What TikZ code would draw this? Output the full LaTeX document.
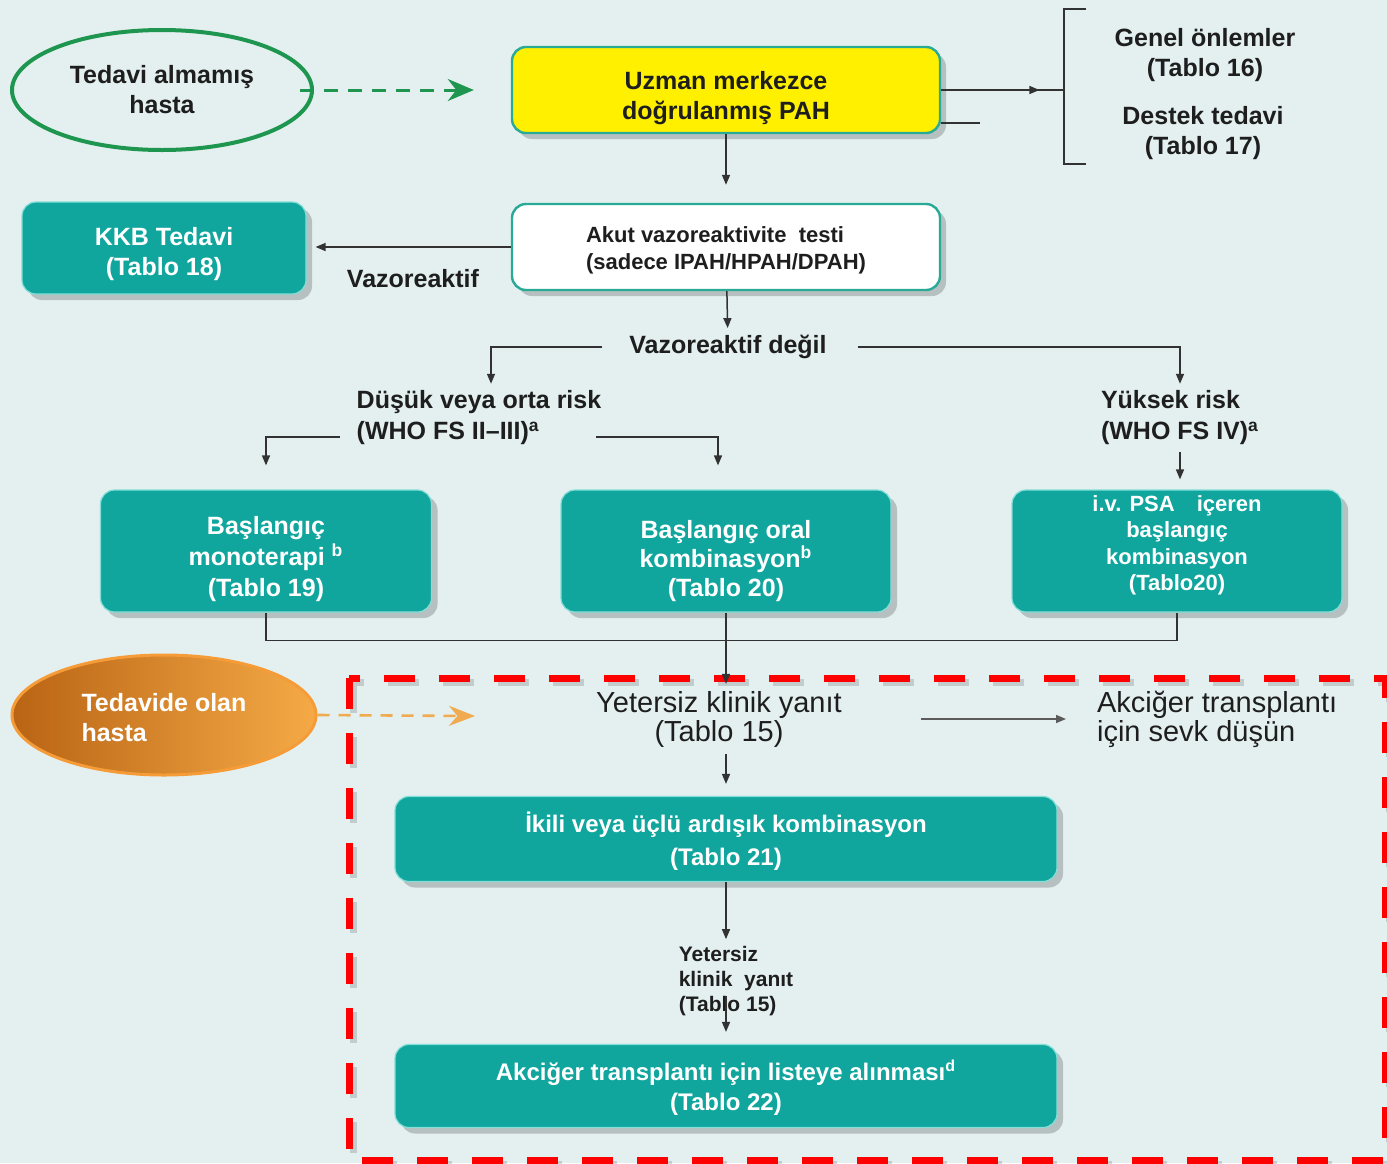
\documentclass[tikz,border=0pt]{standalone}
\usepackage{fontspec}
\setmainfont{Liberation Sans}
\usetikzlibrary{arrows.meta,positioning,shapes.geometric,shadows,decorations.markings}

\definecolor{bgc}{RGB}{228,240,240}
\definecolor{teal1}{RGB}{16,166,158}
\definecolor{tealedge}{RGB}{130,222,215}
\definecolor{tealline}{RGB}{40,170,150}
\definecolor{yel}{RGB}{255,240,0}
\definecolor{grn}{RGB}{30,150,80}
\definecolor{orD}{RGB}{185,100,20}
\definecolor{orL}{RGB}{245,170,70}
\definecolor{orE}{RGB}{245,155,55}
\definecolor{orA}{RGB}{240,170,80}
\definecolor{ink}{RGB}{30,30,30}
\definecolor{lin}{RGB}{50,50,50}

\tikzset{
  conn/.style={draw=lin,line width=0.75pt,-{Triangle[length=5pt,width=4pt]}},
  tbox/.style={rectangle,rounded corners=7pt,fill=teal1,draw=tealedge,line width=0.6pt,
    text=white,align=center,inner ysep=1pt,
    drop shadow={shadow xshift=3pt,shadow yshift=-3pt,fill=black,opacity=.2}},
  wbox/.style={rectangle,rounded corners=7pt,draw=tealline,line width=1.2pt,align=left,
    drop shadow={shadow xshift=3pt,shadow yshift=-3pt,fill=black,opacity=.2}},
  midarrow/.style={postaction={decorate},decoration={markings,
    mark=at position 0.8 with {\arrow{Triangle[length=5pt,width=4pt]}}}}
}

\begin{document}
\begin{tikzpicture}[x=0.5pt,y=-0.5pt,
    font=\bfseries\fontsize{12.5}{15}\selectfont,text=ink]
  \useasboundingbox (0,0) rectangle (1387,1163);
  \fill[bgc] (0,0) rectangle (1387,1163);

  % red frame
  \draw[black,opacity=.15,line width=3.5pt,dash pattern=on 15.5pt off 12pt,
    xshift=2pt,yshift=-2pt] (349,678) rectangle (1385,1160);
  \draw[red,line width=3.5pt,dash pattern=on 15.5pt off 12pt] (349,678) rectangle (1385,1160);

  % start
  \node (TA) at (162,90) [ellipse,draw=grn,line width=2pt,minimum width=150pt,
    minimum height=60pt,align=center] {Tedavi almamış\\hasta};
  \node (PAH) at (726,90) [rectangle,rounded corners=7pt,fill=yel,draw=tealline,
    line width=1.2pt,minimum width=214pt,minimum height=43pt,align=center,inner ysep=1pt,
    drop shadow={shadow xshift=3pt,shadow yshift=-3pt,fill=black,opacity=.2}]
    {\rule{0pt}{17pt}Uzman merkezce\\doğrulanmış PAH};
  \node (GO) at (1205,55) [align=center] {Genel önlemler\\(Tablo 16)};
  \node (DT) at (1203,133) [align=center] {Destek tedavi\\(Tablo 17)};
  \node (AVT) at (726,247) [wbox,fill=white,minimum width=214pt,minimum height=43pt,
    font=\bfseries\fontsize{11}{13.5}\selectfont]
    {\rule{0pt}{11pt}Akut vazoreaktivite\ \ testi\\(sadece IPAH/HPAH/DPAH)};
  \node (VR) at (413,279) {Vazoreaktif};
  \node (VD) at (728,347) {Vazoreaktif değil};
  \node (DR) at (479,418) [align=left,font=\bfseries\fontsize{12.5}{15.5}\selectfont]
    {Düşük veya orta risk\\(WHO FS II–III)\textsuperscript{a}};
  \node (YR) at (1180,418) [align=left,font=\bfseries\fontsize{12.5}{15.5}\selectfont]
    {Yüksek risk\\(WHO FS IV)\textsuperscript{a}};

  \begin{scope}[every node/.style={tbox}]
    \node (KKB) at (164,248) [minimum width=142pt,minimum height=46pt]
      {\rule{0pt}{15pt}KKB Tedavi\\(Tablo 18)};
    \node (T19) at (266,551) [minimum width=165.5pt,minimum height=61pt,
      font=\bfseries\fontsize{12.5}{15.5}\selectfont]
      {\rule{0pt}{17pt}Başlangıç\\monoterapi \textsuperscript{b}\\(Tablo 19)};
    \node (T20) at (726,551) [minimum width=165pt,minimum height=61pt,
      font=\bfseries\fontsize{12.5}{14.5}\selectfont]
      {\rule{0pt}{19pt}Başlangıç oral\\kombinasyon\textsuperscript{b}\\(Tablo 20)};
    \node (T20b) at (1177,551) [minimum width=165pt,minimum height=61pt,
      font=\bfseries\fontsize{11}{13.2}\selectfont]
      {i.v. PSA\quad içeren\\başlangıç\\kombinasyon\\(Tablo20)\rule[-8pt]{0pt}{1pt}};
    \node (T21) at (726,839) [minimum width=331pt,minimum height=42.5pt,
      font=\bfseries\fontsize{12}{16.5}\selectfont]
      {\rule{0pt}{12pt}İkili veya üçlü ardışık kombinasyon\\(Tablo 21)};
    \node (T22) at (726,1086) [minimum width=331pt,minimum height=41.5pt,
      font=\bfseries\fontsize{12}{15}\selectfont]
      {\rule{0pt}{12pt}Akciğer transplantı için listeye alınması\textsuperscript{d}\\(Tablo 22)};
  \end{scope}

  % treated patients
  \node (TO) at (164,715) [ellipse,draw=orE,line width=1.5pt,left color=orD,right color=orL,
    minimum width=152pt,minimum height=60pt,text=white,align=left]
    {\rule{0pt}{12pt}Tedavide olan\\hasta};
  \node (YK) at (719,719) [align=center,font=\mdseries\fontsize{14.5}{14.5}\selectfont]
    {Yetersiz klinik yanıt\\(Tablo 15)};
  \node (AT) at (1090,719) [anchor=west,align=left,font=\mdseries\fontsize{14.5}{14.5}\selectfont]
    {Akciğer transplantı\\için sevk düşün};
  \node (YK2) at (736,981) [align=left,font=\bfseries\fontsize{10.5}{12.5}\selectfont]
    {Yetersiz\\klinik\ \ yanıt\\(Tablo 15)};

  \coordinate (BT) at (1086,9);
  \coordinate (BB) at (1086,164);
  \coordinate (BK) at (1064,90);
  \coordinate (ST) at (980,123);
  \coordinate (OE) at (475,716);

  % dashed inputs
  \draw[grn,line width=1.5pt,dash pattern=on 7pt off 5pt,shorten <=-7pt,shorten >=18.5pt,
    -{Stealth[length=13pt,width=11pt]}] (TA.east) -- (PAH.west);
  \draw[orA,line width=1.3pt,dash pattern=on 6pt off 4.5pt,
    -{Stealth[length=13pt,width=10pt]}] (TO.east) -- (OE);

  % bracket
  \draw[lin,line width=0.75pt,midarrow] (PAH.east) -- (BK);
  \draw[lin,line width=0.75pt] (PAH.east |- ST) -- (ST);
  \draw[lin,line width=0.75pt] (BT) -| (BK) |- (BB);

  \begin{scope}[every edge/.style={conn}]
    \path (PAH) edge[shorten >=9pt] (AVT);
    \path (AVT.west) edge[shorten >=4.5pt] (AVT.west -| KKB.east);
    \path (AVT) edge (VD);
    \path (YR.south) edge[shorten >=5pt] (YR.south |- T20b.north);
    \path (T20.south) edge (T20.south |- YK.north);
    \path (T21.north |- YK.south) edge[shorten >=6pt] (T21.north);
    \path (T21.south) edge (T21.south |- YK2.north);
    \path (YK) edge[draw=lin!80,shorten <=36pt,shorten >=12pt] (AT.west);
  \end{scope}
  \draw[conn,shorten <=10pt] (VD.west) -| ([xshift=6pt]DR.north);
  \draw[conn,shorten <=12pt] (VD.east) -| (YR.north);
  \draw[conn,shorten <=5pt,shorten >=12pt] ([yshift=-9.5pt]DR.west) -| (T19.north);
  \draw[conn,shorten <=-6pt,shorten >=12pt] ([yshift=-9.5pt]DR.east) -| ([xshift=-4pt]T20.north);
  \draw[draw=lin,line width=0.75pt] (T19.south) -- ++(0,28) -| (T20b.south);
  \draw[conn,shorten >=6pt] (YK2.center -| T22.north) ++(0,15) -- (T22.north);
\end{tikzpicture}
\end{document}
